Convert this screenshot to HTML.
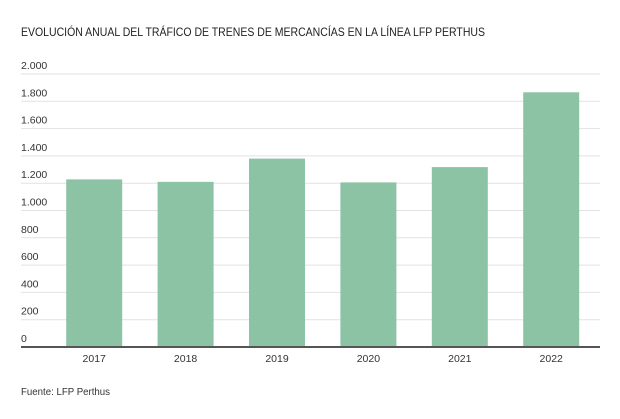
<!DOCTYPE html>
<html><head><meta charset="utf-8"><style>
body{margin:0;background:#fff;font-family:"Liberation Sans",sans-serif;}
svg text{font-family:"Liberation Sans",sans-serif;}
</style></head><body>
<svg width="620" height="414" xmlns="http://www.w3.org/2000/svg">
<text x="21" y="36" font-size="12" fill="#222" textLength="464" lengthAdjust="spacingAndGlyphs">EVOLUCIÓN ANUAL DEL TRÁFICO DE TRENES DE MERCANCÍAS EN LA LÍNEA LFP PERTHUS</text>
<g id="grid"></g><g id="bars"></g><g id="xl"></g>
<line x1="21" x2="600" y1="347" y2="347" stroke="#555" stroke-width="2"/>
<text x="21" y="395" font-size="10.5" fill="#333" textLength="89" lengthAdjust="spacingAndGlyphs">Fuente: LFP Perthus</text>
</svg>
<script>
const categories=["2017","2018","2019","2020","2021","2022"];
const values=[1228,1210,1380,1206,1318,1866];
const ticks=[0,200,400,600,800,1000,1200,1400,1600,1800,2000];
const tickLabels=["0","200","400","600","800","1.000","1.200","1.400","1.600","1.800","2.000"];
const NS="http://www.w3.org/2000/svg";
const y=v=>347-v/2000*273;
const band=91.4, x0=48.5, bw=56;
const xc=i=>x0+band*i+band/2;
function mk(t,a,p){const e=document.createElementNS(NS,t);for(const k in a)e.setAttribute(k,a[k]);p.appendChild(e);return e;}
const g=document.getElementById('grid');
ticks.forEach((t,i)=>{
 if(t>0){const l=mk('line',{x1:21,x2:600,y1:y(t),y2:y(t),stroke:'#e2e2e2','stroke-width':1},g);
 
 }
 const tx=mk('text',{x:21,y:y(t)-5,'font-size':10.5,fill:'#333'},g);tx.textContent=tickLabels[i];
 
 
});
const b=document.getElementById('bars'),xl=document.getElementById('xl');
values.forEach((v,i)=>{
 const r=mk('rect',{x:xc(i)-bw/2,y:y(v),width:bw,height:347-y(v),fill:'#8dc3a5'},b);
 
 
 const t=mk('text',{x:xc(i),y:362,'font-size':10.5,fill:'#333','text-anchor':'middle'},xl);t.textContent=categories[i];
 
 
});
</script>
</body></html>
